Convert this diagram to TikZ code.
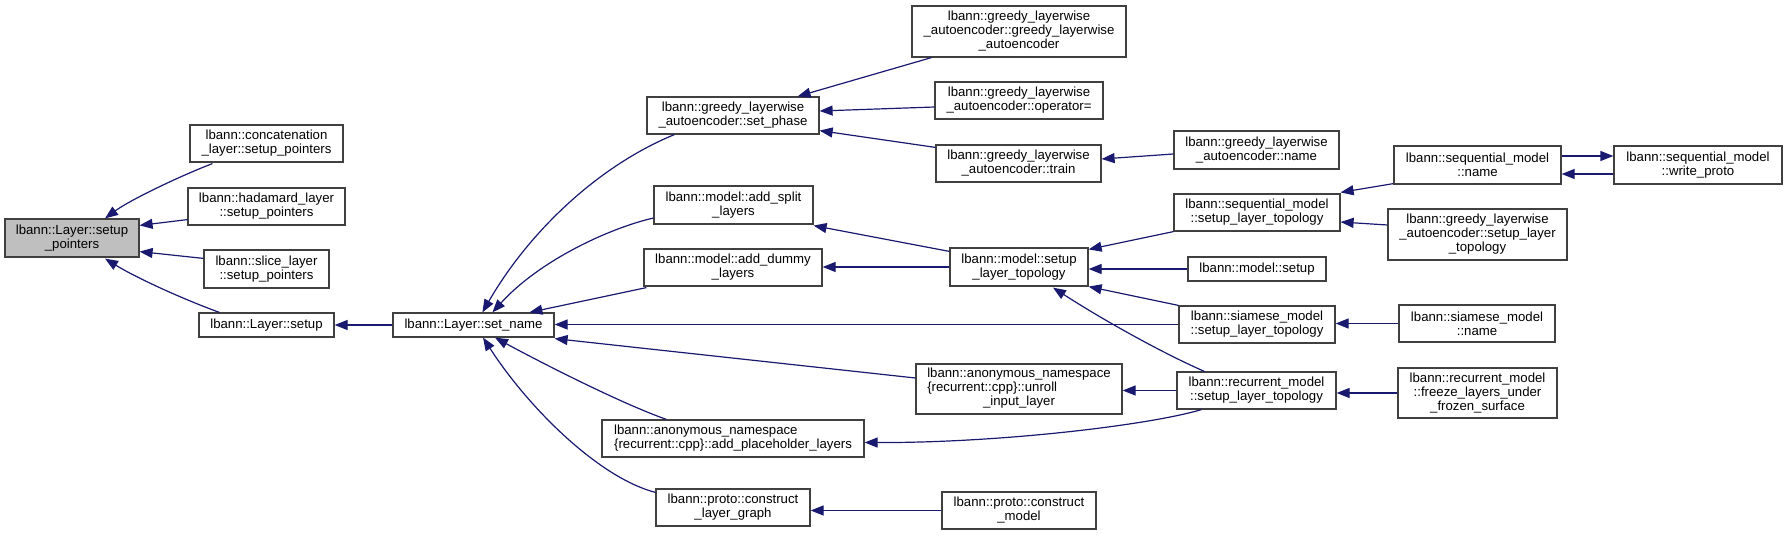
\documentclass[tikz,border=0pt]{standalone}
\usepackage{fontspec}
\setmainfont{Liberation Sans}
\usetikzlibrary{arrows.meta,calc}
\definecolor{edgec}{HTML}{191970}
\definecolor{boxc}{HTML}{404040}
\definecolor{rootc}{HTML}{BFBFBF}
\tikzset{
  bx/.style={draw=boxc, line width=0.6pt, fill=white, inner sep=0pt, align=center,
    font=\fontsize{6.6}{7}\selectfont, text=black},
  rootbox/.style={fill=rootc},
  edge/.style={draw=edgec, line width=0.6pt, -{Triangle[length=6.5pt,width=5pt]}},
}
\newcommand\mkbox[7][]{\node[bx,#1,minimum width={(#5-#3)*0.5pt},minimum height={(#6-#4)*0.5pt}] (#2) at ({(#3+#5)/2},{(#4+#6)/2}) {#7};}
\begin{document}
\begin{tikzpicture}[x=0.5pt,y=-0.5pt]
\useasboundingbox (0,0) rectangle (1786,535);
% nodes
\mkbox[rootbox]{root}{5}{219}{139}{257}{lbann::Layer::setup\\\_pointers}
\mkbox{concat}{190}{125}{343}{162}{lbann::concatenation\\\_layer::setup\_pointers}
\mkbox{hadamard}{188}{188}{345}{225}{lbann::hadamard\_layer\\::setup\_pointers}
\mkbox{slice}{204}{250}{329}{288}{lbann::slice\_layer\\::setup\_pointers}
\mkbox{lsetup}{199}{313}{334}{337}{lbann::Layer::setup}
\mkbox{setname}{393}{313}{554}{337}{lbann::Layer::set\_name}
\mkbox{setphase}{647}{97}{819}{134}{lbann::greedy\_layerwise\\\_autoencoder::set\_phase}
\mkbox{addsplit}{654}{186}{813}{224}{lbann::model::add\_split\\\_layers}
\mkbox{adddummy}{644}{249}{822}{286}{lbann::model::add\_dummy\\\_layers}
\mkbox[align=left]{placeholder}{602}{420}{864}{457}{lbann::anonymous\_namespace\\\{recurrent::cpp\}::add\_placeholder\_layers}
\mkbox{clg}{656}{489}{810}{526}{lbann::proto::construct\\\_layer\_graph}
\mkbox{glactor}{912}{6}{1126}{57}{lbann::greedy\_layerwise\\\_autoencoder::greedy\_layerwise\\\_autoencoder}
\mkbox{glaop}{935}{82}{1103}{119}{lbann::greedy\_layerwise\\\_autoencoder::operator=}
\mkbox{glatrain}{936}{145}{1101}{182}{lbann::greedy\_layerwise\\\_autoencoder::train}
\mkbox{glaname}{1174}{131}{1339}{169}{lbann::greedy\_layerwise\\\_autoencoder::name}
\mkbox{modelslt}{950}{248}{1088}{286}{lbann::model::setup\\\_layer\_topology}
\mkbox{seqslt}{1174}{194}{1340}{231}{lbann::sequential\_model\\::setup\_layer\_topology}
\mkbox{msetup}{1188}{257}{1326}{281}{lbann::model::setup}
\mkbox{siamslt}{1179}{306}{1335}{343}{lbann::siamese\_model\\::setup\_layer\_topology}
\mkbox{unroll}{916}{364}{1122}{414}{\begin{tabular}{@{}l@{}}lbann::anonymous\_namespace\\\{recurrent::cpp\}::unroll\\\multicolumn{1}{@{}c@{}}{\_input\_layer}\end{tabular}}
\mkbox{recslt}{1177}{372}{1336}{409}{lbann::recurrent\_model\\::setup\_layer\_topology}
\mkbox{cmodel}{942}{492}{1096}{529}{lbann::proto::construct\\\_model}
\mkbox{seqname}{1394}{146}{1561}{184}{lbann::sequential\_model\\::name}
\mkbox{wproto}{1614}{146}{1782}{184}{lbann::sequential\_model\\::write\_proto}
\mkbox{glaslt}{1388}{209}{1567}{260}{lbann::greedy\_layerwise\\\_autoencoder::setup\_layer\\\_topology}
\mkbox{siamname}{1399}{305}{1555}{342}{lbann::siamese\_model\\::name}
\mkbox{freeze}{1398}{368}{1557}{418}{lbann::recurrent\_model\\::freeze\_layers\_under\\\_frozen\_surface}
% edges into root
\draw[edge] ($(concat.south west)+(23,1)$) .. controls (180,176) and (130,200) .. ($(root.north)+(33,0)$);
\draw[edge] ($(hadamard.south west)+(0,-6)$) -- ($(root.north east)+(0,7)$);
\draw[edge] ($(slice.north west)+(0,9)$) -- ($(root.south east)+(0,-6)$);
\draw[edge] ($(lsetup.north west)+(21,0)$) .. controls (180,298) and (135,277) .. ($(root.south)+(33,1)$);
\draw[edge] (setname.west) -- (lsetup.east);
% edges into set_name
\draw[edge] ($(setphase.south west)+(28,0)$) .. controls (600,165) and (530,230) .. ($(setname.north west)+(90,0)$);
\draw[edge] ($(addsplit.west)+(0,13)$) .. controls (610,228) and (540,260) .. ($(setname.north west)+(100,0)$);
\draw[edge] ($(adddummy.south west)+(3,1)$) -- ($(setname.north west)+(137,0)$);
\draw[edge] (siamslt.west) -- (siamslt.west -| setname.east);
\draw[edge] ($(unroll.west)+(0,-11)$) -- ($(setname.south east)+(0,1)$);
\draw[edge] ($(placeholder.north west)+(65,0)$) .. controls (620,403) and (540,362) .. ($(setname.south)+(21.5,0)$);
\draw[edge] ($(clg.north west)+(0,4)$) .. controls (600,478) and (530,410) .. ($(setname.south)+(9.5,0)$);
% edges into set_phase
\draw[edge] ($(glactor.south west)+(20,0)$) -- ($(setphase.north east)+(-22,0)$);
\draw[edge] ($(glaop.west)+(0,6.5)$) -- ($(setphase.east)+(0,-4.5)$);
\draw[edge] ($(glatrain.north west)+(0,3)$) -- ($(setphase.south east)+(0,-4)$);
\draw[edge] ($(glaname.west)+(0,4)$) -- ($(glatrain.east)+(0,-4.5)$);
% edges into add_split / add_dummy
\draw[edge] ($(modelslt.north west)+(0,4)$) -- ($(addsplit.south east)+(0,1)$);
\draw[edge] (modelslt.west) -- (modelslt.west -| adddummy.east);
% edges into model::setup_layer_topology
\draw[edge] (seqslt.south west) -- ($(modelslt.north east)+(0,2)$);
\draw[edge] (msetup.west) -- (msetup.west -| modelslt.east);
\draw[edge] (siamslt.north west) -- (modelslt.south east);
\draw[edge] ($(recslt.north west)+(28,0)$) .. controls (1160,352) and (1100,318) .. ($(modelslt.south)+(34,1)$);
% edges from recurrent
\draw[edge] (recslt.west) -- (recslt.west -| unroll.east);
\draw[edge] ($(recslt.south west)+(25,0)$) .. controls (1150,425) and (1000,443) .. ($(placeholder.east)+(0,4)$);
\draw[edge] (cmodel.west) -- (cmodel.west -| clg.east);
% right part
\draw[edge] ($(seqname.south west)+(0,-1)$) -- ($(seqslt.north east)+(0,-1)$);
\draw[edge] ($(glaslt.west)+(0,-9.5)$) -- ($(seqslt.east)+(0,9.5)$);
\draw[edge] ($(seqname.east)+(0,-9)$) -- ($(wproto.west)+(0,-9)$);
\draw[edge] ($(wproto.west)+(0,9)$) -- ($(seqname.east)+(0,9)$);
\draw[edge] (siamname.west) -- (siamname.west -| siamslt.east);
\draw[edge] (freeze.west) -- (freeze.west -| recslt.east);
\end{tikzpicture}
\end{document}
